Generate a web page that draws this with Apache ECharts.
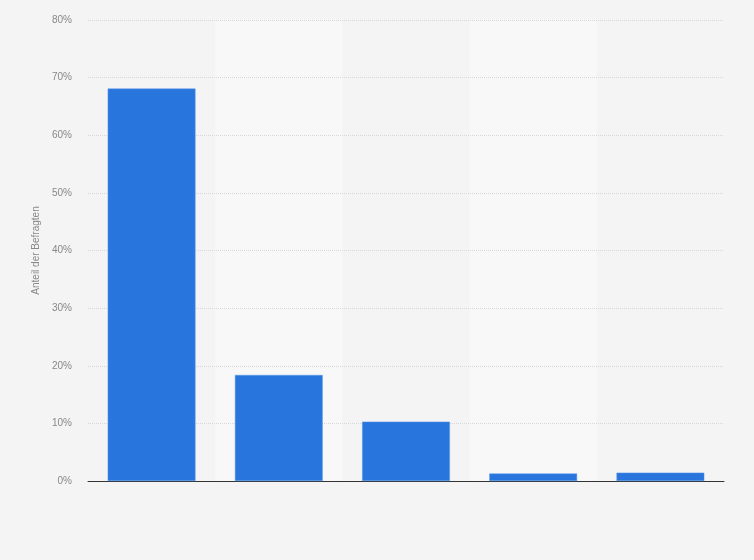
<!DOCTYPE html>
<html>
<head>
<meta charset="utf-8">
<script src="https://cdn.jsdelivr.net/npm/echarts@6/dist/echarts.min.js"></script>
<style>
  html, body { margin: 0; padding: 0; background: #f4f4f4; }
  #chart { width: 754px; height: 560px; }
</style>
</head>
<body>
<div id="chart"></div>
<script>
// category labels are not shown in the source picture
const categories = ['1', '2', '3', '4', '5'];
const shares = [68.1, 18.4, 10.3, 1.3, 1.45];
const yTicks = { min: 0, max: 80, interval: 10 };

const chart = echarts.init(document.getElementById('chart'));

chart.setOption({
  backgroundColor: '#f4f4f4',
  animation: false,
  grid: { left: 88, right: 30, top: 20, bottom: 79, containLabel: false },
  xAxis: {
    type: 'category',
    data: categories,
    z: 0,
    axisLine: { show: true, lineStyle: { color: '#333', width: 1 } },
    axisTick: { show: false },
    axisLabel: { show: false },
    splitArea: {
      show: true,
      areaStyle: { color: ['rgba(0,0,0,0)', '#f8f8f8'] }
    }
  },
  yAxis: {
    type: 'value',
    z: 1,
    min: yTicks.min,
    max: yTicks.max,
    interval: yTicks.interval,
    name: 'Anteil der Befragten',
    nameLocation: 'middle',
    nameGap: 44,
    nameTextStyle: { color: '#888', fontSize: 10, fontFamily: 'Arial, Liberation Sans, sans-serif' },
    axisLine: { show: false },
    axisTick: { show: false },
    axisLabel: {
      formatter: '{value}%',
      color: '#888',
      fontSize: 10,
      margin: 16,
      fontFamily: 'Arial, Liberation Sans, sans-serif'
    },
    splitLine: { showMinLine: false, lineStyle: { color: '#d8d8d8', type: [1, 1] } }
  },
  series: [{
    type: 'bar',
    data: shares,
    barWidth: '69%',
    itemStyle: { color: '#2876dd', borderColor: '#5a96e6', borderWidth: 0.5 }
  }]
});
</script>
</body>
</html>
